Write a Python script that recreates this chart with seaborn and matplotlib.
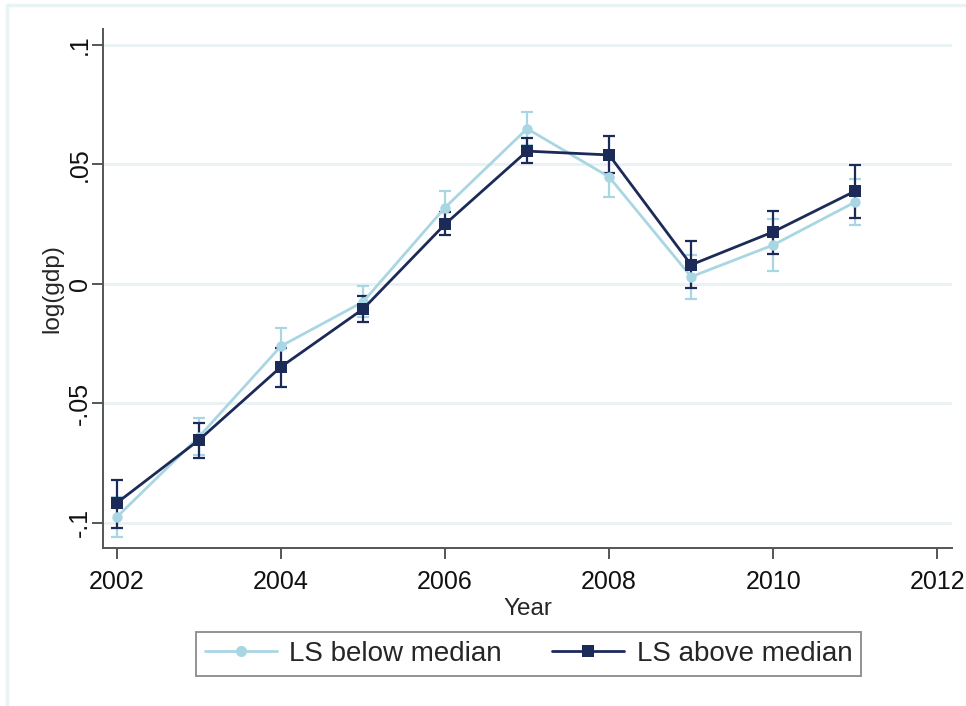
import matplotlib
matplotlib.use("Agg")
import matplotlib.pyplot as plt
from matplotlib.lines import Line2D
import numpy as np
import pandas as pd
import seaborn as sns

# Yearly estimates of log(gdp) with confidence bounds, by LS group
years = [2002, 2003, 2004, 2005, 2006, 2007, 2008, 2009, 2010, 2011]

below_est = [-0.0975, -0.064, -0.026, -0.0075, 0.032, 0.065, 0.0448, 0.003, 0.0163, 0.0343]
below_lo = [-0.106, -0.0715, -0.034, -0.014, 0.024, 0.058, 0.0364, -0.0063, 0.0054, 0.0247]
below_hi = [-0.089, -0.056, -0.0184, -0.001, 0.039, 0.072, 0.053, 0.012, 0.027, 0.044]

above_est = [-0.0916, -0.0653, -0.0347, -0.0105, 0.025, 0.0556, 0.054, 0.008, 0.0218, 0.0389]
above_lo = [-0.102, -0.073, -0.043, -0.016, 0.0205, 0.0506, 0.0464, -0.0017, 0.0126, 0.0276]
above_hi = [-0.082, -0.058, -0.027, -0.005, 0.030, 0.061, 0.062, 0.018, 0.0305, 0.0498]

y_ticks = [-0.1, -0.05, 0.0, 0.05, 0.1]
y_tick_labels = ["-.1", "-.05", "0", ".05", ".1"]
x_ticks = [2002, 2004, 2006, 2008, 2010, 2012]

labels = ["LS below median", "LS above median"]
LIGHT = "#a9d6e3"
DARK = "#1c2a58"

df = pd.concat([
    pd.DataFrame({"Year": years, "value": below_est, "lo": below_lo, "hi": below_hi, "group": labels[0]}),
    pd.DataFrame({"Year": years, "value": above_est, "lo": above_lo, "hi": above_hi, "group": labels[1]}),
], ignore_index=True)

sns.set_theme(style="white")
plt.rcParams["font.family"] = ["Liberation Sans", "DejaVu Sans"]

fig = plt.figure(figsize=(9.66, 7.06), dpi=100)
ax = fig.add_axes([0.1066, 0.2238, 0.8789, 0.7351])

styles = {labels[0]: dict(color=LIGHT, marker="o", ms=7.5),
          labels[1]: dict(color=DARK, marker="s", ms=8.5)}

for name in labels:
    sub = df[df["group"] == name]
    st = styles[name]
    ax.errorbar(sub["Year"], sub["value"],
                yerr=[sub["value"] - sub["lo"], sub["hi"] - sub["value"]],
                fmt="none", ecolor=st["color"], elinewidth=1.6,
                capsize=4, capthick=1.6, zorder=3)
    sns.lineplot(data=sub, x="Year", y="value", ax=ax, color=st["color"],
                 marker=st["marker"], markersize=st["ms"], markeredgewidth=0,
                 linewidth=2, errorbar=None, legend=False, zorder=4)

ax.set_xlim(2001.83, 2012.18)
ax.set_ylim(-0.1105, 0.1067)
ax.set_xticks(x_ticks)
ax.set_xticklabels([str(t) for t in x_ticks], fontsize=18)
ax.set_yticks(y_ticks)
ax.set_yticklabels(y_tick_labels, fontsize=18, rotation=90, va="center")
ax.set_xlabel("Year", fontsize=17.5, labelpad=3)
ax.set_ylabel("log(gdp)", fontsize=17.5, labelpad=3)

ax.yaxis.grid(True, color="#e8f1f3", linewidth=2)
ax.xaxis.grid(False)
ax.set_axisbelow(True)
for side in ["top", "right"]:
    ax.spines[side].set_visible(False)
for side in ["left", "bottom"]:
    ax.spines[side].set_color("#555555")
    ax.spines[side].set_linewidth(1.4)
ax.tick_params(axis="both", direction="out", length=8, width=1.4,
               color="#555555", labelcolor="#111111", left=True, bottom=True)
ax.tick_params(axis="x", pad=8)
ax.tick_params(axis="y", pad=0)

handles = [Line2D([], [], color=LIGHT, marker="o", ms=8, lw=2, mew=0),
           Line2D([], [], color=DARK, marker="s", ms=8, lw=2, mew=0)]
leg = fig.legend(handles, labels, loc="center", bbox_to_anchor=(0.547, 0.0737),
                 ncol=2, fontsize=20, frameon=True, fancybox=False,
                 handlelength=2.6, handletextpad=0.45, columnspacing=1.8,
                 borderpad=0.32, borderaxespad=0, edgecolor="#777777")
leg.get_frame().set_linewidth(1.4)

# outer frame of the graph region
fig.add_artist(Line2D([0.0072, 0.0072], [0.0, 0.9935], transform=fig.transFigure,
                      color="#eaf3f4", linewidth=2.5))
fig.add_artist(Line2D([0.0072, 1.0], [0.9935, 0.9935], transform=fig.transFigure,
                      color="#eaf3f4", linewidth=2.5))

fig.savefig("out.png", dpi=100, facecolor="white")
